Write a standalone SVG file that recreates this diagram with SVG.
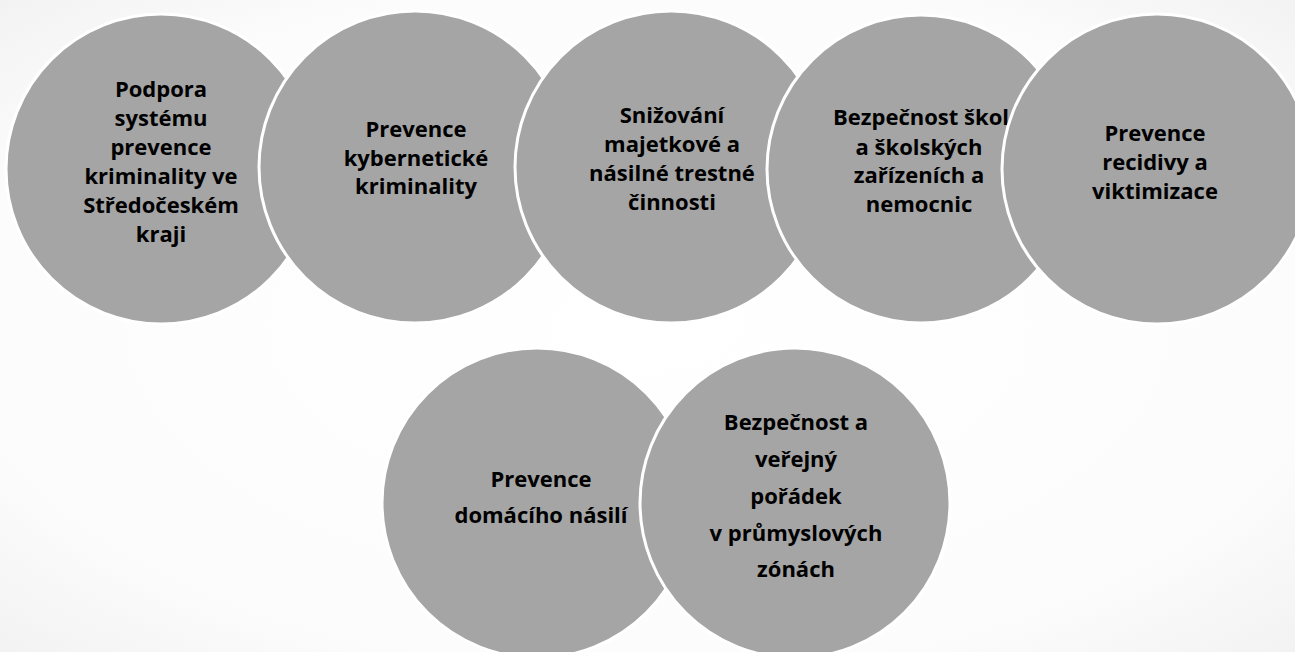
<svg xmlns="http://www.w3.org/2000/svg" width="1295" height="652" viewBox="0 0 1295 652">
<defs>
<radialGradient id="bg" cx="50%" cy="50%" r="75%">
<stop offset="0" stop-color="#ffffff"/>
<stop offset="0.7" stop-color="#fcfcfc"/>
<stop offset="1" stop-color="#f0f0f0"/>
</radialGradient>
<style>
.c{fill:#a5a5a5;stroke:#ffffff;stroke-width:3}
.t{font-family:"Open Sans","Liberation Sans",sans-serif;font-weight:bold;font-size:22px;fill:#000;text-anchor:middle}
</style>
</defs>
<rect width="1295" height="652" fill="url(#bg)"/>
<g id="node1">
<circle class="c" cx="161" cy="169" r="155"/>
<text class="t"><tspan x="161" y="97">Podpora</tspan><tspan x="161" y="126">systému</tspan><tspan x="161" y="155">prevence</tspan><tspan x="161" y="184">kriminality ve</tspan><tspan x="161" y="213">Středočeském</tspan><tspan x="161" y="242">kraji</tspan></text>
</g>
<g id="node2">
<circle class="c" cx="415" cy="167" r="156"/>
<text class="t"><tspan x="416" y="137">Prevence</tspan><tspan x="416" y="166">kybernetické</tspan><tspan x="416" y="194">kriminality</tspan></text>
</g>
<g id="node3">
<circle class="c" cx="671" cy="167" r="156"/>
<text class="t"><tspan x="672" y="123">Snižování</tspan><tspan x="672" y="152">majetkové a</tspan><tspan x="672" y="181">násilné trestné</tspan><tspan x="672" y="210">činnosti</tspan></text>
</g>
<g id="node4">
<circle class="c" cx="921" cy="169" r="154"/>
<text class="t"><tspan x="921" y="125">Bezpečnost škol</tspan><tspan x="919" y="155">a školských</tspan><tspan x="919" y="183">zařízeních a</tspan><tspan x="919" y="212">nemocnic</tspan></text>
</g>
<g id="node5">
<circle class="c" cx="1157" cy="169" r="155"/>
<text class="t"><tspan x="1155" y="141">Prevence</tspan><tspan x="1155" y="170">recidivy a</tspan><tspan x="1155" y="199">viktimizace</tspan></text>
</g>
<g id="node6">
<circle class="c" cx="537" cy="503" r="155"/>
<text class="t"><tspan x="541" y="487">Prevence</tspan><tspan x="541" y="523">domácího násilí</tspan></text>
</g>
<g id="node7">
<circle class="c" cx="795" cy="503" r="155"/>
<text class="t"><tspan x="796" y="430">Bezpečnost a</tspan><tspan x="796" y="467">veřejný</tspan><tspan x="796" y="504">pořádek</tspan><tspan x="796" y="541">v průmyslových</tspan><tspan x="796" y="577">zónách</tspan></text>
</g>
<g id="connectors"/>
</svg>
